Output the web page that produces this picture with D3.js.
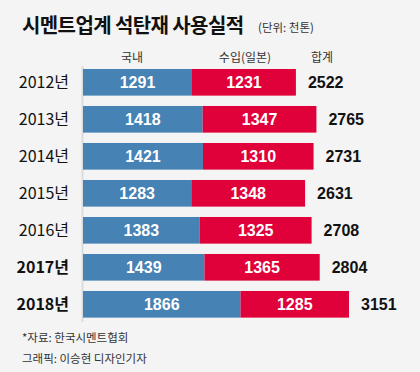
<!DOCTYPE html>
<html>
<head>
<meta charset="utf-8">
<script src="https://d3js.org/d3.v7.min.js"></script>
<style>
  body { margin: 0; background: #f4f4f4; }
  svg { display: block; font-family: "Noto Sans CJK KR", "Liberation Sans", sans-serif; }
  .num { font-family: "Liberation Sans Narrow", "Liberation Sans", sans-serif; }
  .yr { font-family: "Liberation Sans Narrow", "Noto Sans CJK KR", sans-serif; }
</style>
</head>
<body>
<div id="chart"></div>
<script>
  var years = ["2012년", "2013년", "2014년", "2015년", "2016년", "2017년", "2018년"];
  var domestic = [1291, 1418, 1421, 1283, 1383, 1439, 1866];
  var imported = [1231, 1347, 1310, 1348, 1325, 1365, 1285];
  var totals = [2522, 2765, 2731, 2631, 2708, 2804, 3151];
  var boldYears = ["2017년", "2018년"];

  var w = 420, h = 372;
  var data = years.map(function(y, i) {
    return { year: y, dom: domestic[i], imp: imported[i], total: totals[i] };
  });

  var svg = d3.select("#chart").append("svg").attr("width", w).attr("height", h);
  svg.append("rect").attr("width", w).attr("height", h).attr("fill", "#f4f4f4");

  var xScale = d3.scaleLinear().domain([0, 3151]).range([83, 349]);
  var yScale = d3.scaleBand().domain(years).range([63.8, 322.8])
    .paddingInner(0.28).paddingOuter(0.14);

  // title
  svg.append("text").attr("x", 22).attr("y", 33)
    .attr("font-size", 20).attr("font-weight", "bold").attr("fill", "#111")
    .attr("letter-spacing", -0.6)
    .text("시멘트업계 석탄재 사용실적");
  svg.append("text").attr("x", 258).attr("y", 32)
    .attr("font-size", 11.5).attr("fill", "#333")
    .text("(단위: 천톤)");

  // column headers
  var heads = [["국내", 132], ["수입(일본)", 245], ["합계", 322]];
  svg.selectAll(".head").data(heads).enter().append("text")
    .attr("class", "head")
    .attr("x", function(d) { return d[1]; })
    .attr("y", 62)
    .attr("text-anchor", "middle")
    .attr("font-size", 12).attr("fill", "#333")
    .text(function(d) { return d[0]; });

  // left axis line
  svg.append("line")
    .attr("x1", 82.5).attr("x2", 82.5)
    .attr("y1", 66).attr("y2", 322)
    .attr("stroke", "#dcdcdc").attr("stroke-width", 2);

  var rows = svg.selectAll(".row").data(data).enter().append("g")
    .attr("class", "row")
    .attr("transform", function(d) { return "translate(0," + yScale(d.year) + ")"; });

  var bh = yScale.bandwidth();

  rows.append("rect")
    .attr("x", xScale(0))
    .attr("y", 0)
    .attr("width", function(d) { return xScale(d.dom) - xScale(0); })
    .attr("height", bh)
    .attr("fill", "#4682b4");

  rows.append("rect")
    .attr("x", function(d) { return xScale(d.dom); })
    .attr("y", 0)
    .attr("width", function(d) { return xScale(d.dom + d.imp) - xScale(d.dom); })
    .attr("height", bh)
    .attr("fill", "#e0003a");

  rows.append("text")
    .attr("class", "num")
    .attr("x", function(d) { return (xScale(0) + xScale(d.dom)) / 2; })
    .attr("y", bh / 2 + 5.5)
    .attr("text-anchor", "middle")
    .attr("font-size", 16).attr("font-weight", "bold").attr("fill", "#fff")
    .text(function(d) { return d.dom; });

  rows.append("text")
    .attr("class", "num")
    .attr("x", function(d) { return (xScale(d.dom) + xScale(d.dom + d.imp)) / 2; })
    .attr("y", bh / 2 + 5.5)
    .attr("text-anchor", "middle")
    .attr("font-size", 16).attr("font-weight", "bold").attr("fill", "#fff")
    .text(function(d) { return d.imp; });

  rows.append("text")
    .attr("class", "num")
    .attr("x", function(d) { return xScale(d.total) + 12; })
    .attr("y", bh / 2 + 5.5)
    .attr("font-size", 16).attr("font-weight", "bold").attr("fill", "#111")
    .text(function(d) { return d.total; });

  rows.append("text")
    .attr("class", "yr")
    .attr("x", 69)
    .attr("y", bh / 2 + 5.5)
    .attr("text-anchor", "end")
    .attr("font-size", 16).attr("fill", "#111")
    .attr("font-weight", function(d) { return boldYears.indexOf(d.year) >= 0 ? "bold" : "normal"; })
    .text(function(d) { return d.year; });

  // footer
  svg.append("text").attr("x", 22).attr("y", 342)
    .attr("font-size", 11.5).attr("fill", "#333")
    .text("*자료: 한국시멘트협회");
  svg.append("text").attr("x", 22).attr("y", 363)
    .attr("font-size", 11.5).attr("fill", "#333")
    .text("그래픽: 이승현 디자인기자");
</script>
</body>
</html>
